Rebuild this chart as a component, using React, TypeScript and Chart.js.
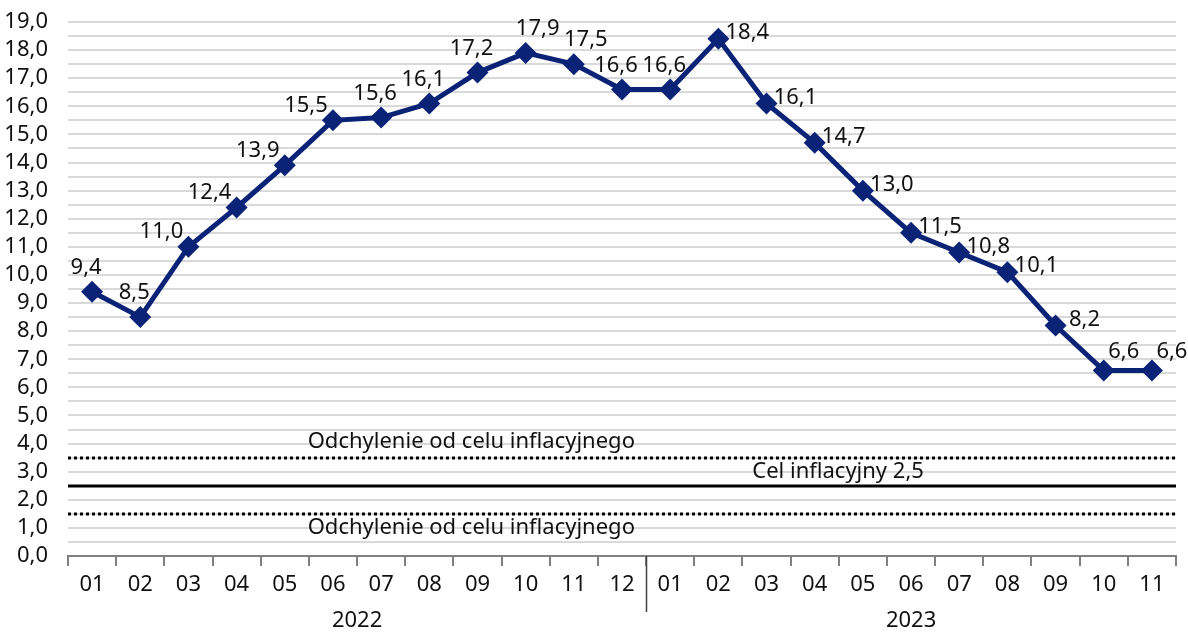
import React, { useEffect, useRef } from "react";
import { Chart, registerables } from "chart.js";

Chart.register(...registerables);

const months: string[] = ["01","02","03","04","05","06","07","08","09","10","11","12","01","02","03","04","05","06","07","08","09","10","11"];
const years: string[] = ["2022", "2023"];
const monthsPerYear: number[] = [12, 11];
const cpi: number[] = [9.4,8.5,11.0,12.4,13.9,15.5,15.6,16.1,17.2,17.9,17.5,16.6,16.6,18.4,16.1,14.7,13.0,11.5,10.8,10.1,8.2,6.6,6.6];
const labelPlacement: string[] = ["t","t","tl","tl","tl","tl","t","t","t","tr","tr","t","t","r","r","r","r","r","r","r","r","tr2","tr2"];
const target: number = 2.5;
const bandUpper: number = 3.5;
const bandLower: number = 1.5;
const bandLabel = "Odchylenie od celu inflacyjnego";
const targetLabel = "Cel inflacyjny 2,5";

const FONT = "'Noto Sans', sans-serif";
const FS = 22;
const TEXT = "#111111";
const NAVY = "#0a2377";

const fmt = (v: number) => v.toFixed(1).replace(".", ",");

const placementOffset: Record<string, [number, number]> = {
  t: [-6, -24],
  tl: [-27, -15],
  tr: [12, -24],
  tr2: [20, -19],
  r: [29, -6],
};

const refLinesPlugin = {
  id: "refLines",
  beforeDatasetsDraw(chart: any) {
    const { ctx, chartArea } = chart;
    const y = chart.scales.y;
    const x0 = chartArea.left;
    const x1 = chartArea.right;
    ctx.save();
    ctx.strokeStyle = "#000";
    ctx.lineWidth = 3;
    ctx.setLineDash([3, 3]);
    for (const v of [bandUpper, bandLower]) {
      const py = Math.round(y.getPixelForValue(v));
      ctx.beginPath();
      ctx.moveTo(x0, py);
      ctx.lineTo(x1, py);
      ctx.stroke();
    }
    ctx.setLineDash([]);
    const pt = Math.round(y.getPixelForValue(target));
    ctx.beginPath();
    ctx.moveTo(x0, pt);
    ctx.lineTo(x1, pt);
    ctx.stroke();

    ctx.fillStyle = TEXT;
    ctx.font = `${FS}px ${FONT}`;
    ctx.textAlign = "center";
    ctx.textBaseline = "middle";
    const w = x1 - x0;
    ctx.fillText(bandLabel, x0 + w * 0.364, y.getPixelForValue(bandUpper) - 16);
    ctx.fillText(bandLabel, x0 + w * 0.364, y.getPixelForValue(bandLower) + 14);
    ctx.fillText(targetLabel, x0 + w * 0.695, pt - 14);
    ctx.restore();
  },
};

const dataLabelPlugin = {
  id: "dataLabels",
  afterDatasetsDraw(chart: any) {
    const { ctx } = chart;
    const meta = chart.getDatasetMeta(0);
    ctx.save();
    ctx.fillStyle = TEXT;
    ctx.font = `${FS}px ${FONT}`;
    ctx.textAlign = "center";
    ctx.textBaseline = "middle";
    meta.data.forEach((el: any, i: number) => {
      const [dx, dy] = placementOffset[labelPlacement[i]] || [0, -24];
      ctx.fillText(fmt(cpi[i]), el.x + dx, el.y + dy);
    });
    ctx.restore();
  },
};

const yearPlugin = {
  id: "years",
  afterDraw(chart: any) {
    const { ctx, chartArea } = chart;
    const xs = chart.scales.x;
    const step = (chartArea.right - chartArea.left) / months.length;
    ctx.save();
    ctx.fillStyle = TEXT;
    ctx.font = `${FS}px ${FONT}`;
    ctx.textAlign = "center";
    ctx.textBaseline = "middle";
    let start = 0;
    monthsPerYear.forEach((n, k) => {
      const left = xs.getPixelForValue(start) - step / 2;
      const right = xs.getPixelForValue(start + n - 1) + step / 2;
      ctx.fillText(years[k], (left + right) / 2, chartArea.bottom + 65);
      if (k > 0) {
        ctx.strokeStyle = "#404040";
        ctx.lineWidth = 1.5;
        ctx.beginPath();
        ctx.moveTo(Math.round(left) + 0.5, chartArea.bottom);
        ctx.lineTo(Math.round(left) + 0.5, chartArea.bottom + 56);
        ctx.stroke();
      }
      start += n;
    });
    ctx.restore();
  },
};

export default function App() {
  const ref = useRef<HTMLCanvasElement>(null);
  useEffect(() => {
    if (!ref.current) return;
    const chart = new Chart(ref.current, {
      type: "line",
      data: {
        labels: months,
        datasets: [
          {
            data: cpi,
            borderColor: NAVY,
            backgroundColor: NAVY,
            borderWidth: 5,
            pointStyle: "rectRot",
            pointRadius: 11,
            pointBorderWidth: 0,
            pointBackgroundColor: NAVY,
            tension: 0,
          },
        ],
      },
      options: {
        animation: false,
        responsive: true,
        maintainAspectRatio: false,
        layout: { padding: { top: 22, right: 12, left: 0, bottom: 0 } },
        plugins: { legend: { display: false }, tooltip: { enabled: false } },
        scales: {
          x: {
            offset: true,
            grid: {
              offset: true,
              display: true,
              drawOnChartArea: false,
              drawTicks: true,
              tickLength: 10,
              color: "#808080",
              lineWidth: 2,
            },
            border: { display: true, color: "#808080", width: 2 },
            ticks: {
              color: TEXT,
              font: { family: FONT, size: FS },
              padding: 6,
              maxRotation: 0,
              autoSkip: false,
            },
            afterFit(scale: any) {
              scale.height = 76;
              scale.paddingLeft = 0;
              scale.paddingRight = 0;
            },
          },
          y: {
            min: 0,
            max: 19,
            grid: { color: "#d9d9d9", lineWidth: 2, drawTicks: false },
            border: { display: false },
            ticks: {
              stepSize: 0.5,
              autoSkip: false,
              padding: 20,
              color: TEXT,
              font: { family: FONT, size: FS },
              callback: (v: any) => (Number.isInteger(v) ? fmt(v) : ""),
            },
            afterFit(scale: any) {
              scale.width = 68;
              scale.paddingTop = 0;
              scale.paddingBottom = 0;
            },
          },
        },
      },
      plugins: [refLinesPlugin, dataLabelPlugin, yearPlugin],
    });
    return () => chart.destroy();
  }, []);
  return (
    <div style={{ position: "absolute", left: 0, top: 0, width: 1188, height: 632, background: "#fff" }}>
      <canvas ref={ref} />
    </div>
  );
}
